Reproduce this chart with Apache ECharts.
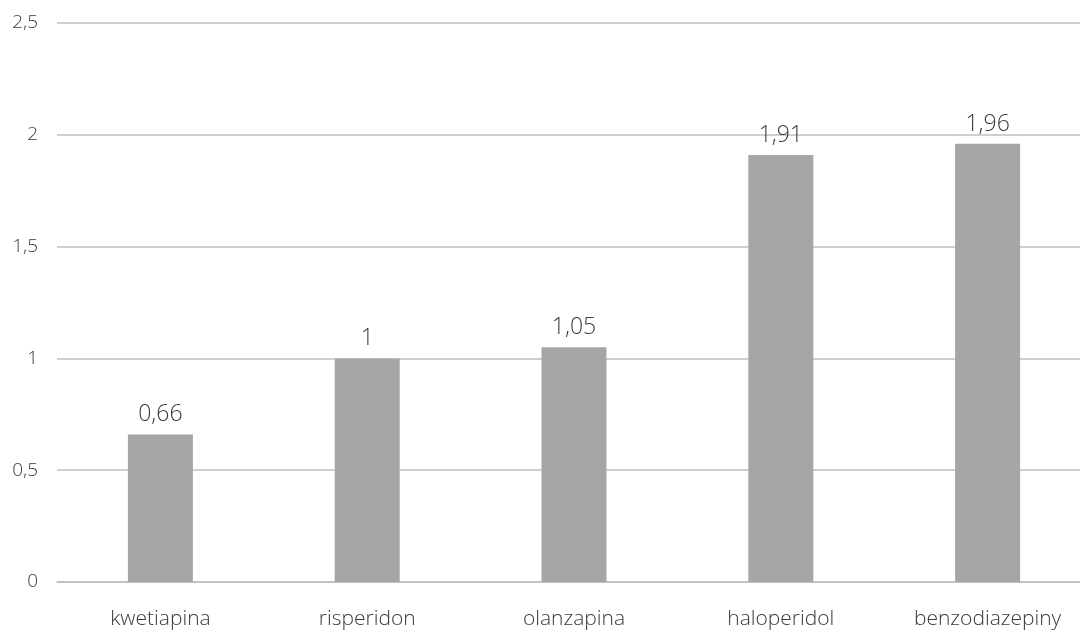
<!DOCTYPE html>
<html>
<head>
<meta charset="utf-8">
<script src="https://cdn.jsdelivr.net/npm/echarts@6/dist/echarts.min.js"></script>
<style>
  html, body { margin: 0; padding: 0; background: #ffffff; overflow: hidden; }
  /* the plot area runs a little past the right edge of the window */
  #chart { width: 1091px; height: 630px; }
</style>
</head>
<body>
<div id="chart"></div>
<script>
// Drug categories and their values
const categories = ['kwetiapina', 'risperidon', 'olanzapina', 'haloperidol', 'benzodiazepiny'];
const values = [0.66, 1, 1.05, 1.91, 1.96];
const yTicks = [0, 0.5, 1, 1.5, 2, 2.5];

const fontFamily = '"Open Sans", "Noto Sans", sans-serif';
const textColor = '#3a3a3a';
const commaDecimal = v => String(v).replace('.', ',');

const chart = echarts.init(document.getElementById('chart'));
chart.setOption({
  animation: false,
  backgroundColor: '#ffffff',
  grid: { left: 57, right: 0, top: 23, bottom: 47 },
  xAxis: {
    type: 'category',
    data: categories,
    axisLine: { show: true, lineStyle: { color: '#bfbfbf', width: 1.5 } },
    axisTick: { show: false },
    axisLabel: {
      color: textColor,
      fontFamily: fontFamily,
      fontWeight: 300,
      fontSize: 21,
      margin: 27
    }
  },
  yAxis: {
    type: 'value',
    min: yTicks[0],
    max: yTicks[yTicks.length - 1],
    interval: 0.5,
    axisLine: { show: false },
    axisTick: { show: false },
    splitLine: { lineStyle: { color: '#bfbfbf', width: 1.5 } },
    axisLabel: {
      color: textColor,
      fontFamily: fontFamily,
      fontWeight: 300,
      fontSize: 19,
      margin: 19,
      formatter: v => commaDecimal(v)
    }
  },
  series: [{
    type: 'bar',
    data: values,
    barWidth: 65,
    itemStyle: { color: '#a6a6a8' },
    label: {
      show: true,
      position: 'top',
      distance: 8,
      color: textColor,
      fontFamily: fontFamily,
      fontWeight: 300,
      fontSize: 23,
      formatter: p => commaDecimal(p.value)
    }
  }]
});
</script>
</body>
</html>
